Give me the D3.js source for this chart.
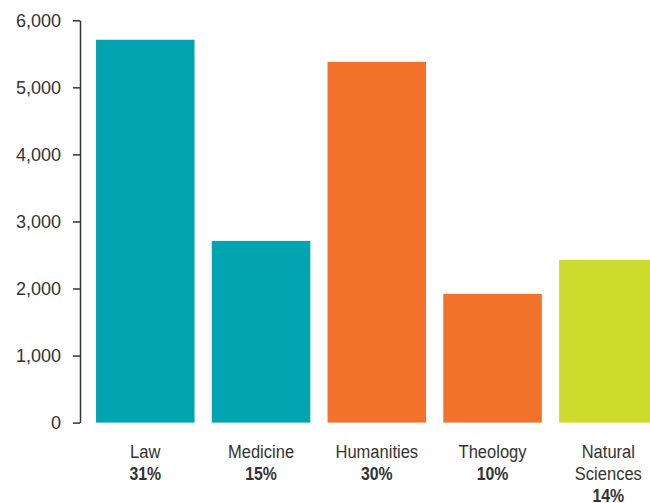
<!DOCTYPE html>
<html>
<head>
<meta charset="utf-8">
<script src="https://cdn.jsdelivr.net/npm/d3@7"></script>
<style>
  html, body { margin: 0; padding: 0; background: #fff; }
  svg { display: block; }
  text { font-family: "Liberation Sans", Arial, sans-serif; fill: #333; }
</style>
</head>
<body>
<svg id="chart" width="650" height="503"></svg>
<script>
// Students enrolled by faculty
const categories = ["Law", "Medicine", "Humanities", "Theology", "Natural Sciences"];
const labelLines = [["Law"], ["Medicine"], ["Humanities"], ["Theology"], ["Natural", "Sciences"]];
const values = [5710, 2710, 5380, 1920, 2425];
const shares = ["31%", "15%", "30%", "10%", "14%"];
const colors = ["#00a3b0", "#00a3b0", "#f2712b", "#f2712b", "#ccdb2c"];
const yTicks = [0, 1000, 2000, 3000, 4000, 5000, 6000];

const svg = d3.select("#chart");

const y = d3.scaleLinear().domain([0, 6000]).range([422.6, 20.3]);
const x = d3.scaleBand()
  .domain(categories)
  .range([87.4, 666.2])
  .paddingInner(0.149)
  .paddingOuter(0.0745);

// Bars
svg.append("g")
  .selectAll("rect")
  .data(categories)
  .join("rect")
  .attr("x", d => x(d))
  .attr("width", x.bandwidth())
  .attr("y", (d, i) => y(values[i]))
  .attr("height", (d, i) => y(0) - y(values[i]))
  .attr("fill", (d, i) => colors[i]);

// Y axis
const yAxis = d3.axisLeft(y)
  .tickValues(yTicks)
  .tickFormat(d3.format(","))
  .tickSize(7)
  .tickPadding(12)
  .tickSizeOuter(0);

const gy = svg.append("g")
  .attr("transform", "translate(80,0)")
  .call(yAxis);
gy.select(".domain").attr("stroke", "#333").attr("stroke-width", 1.5);
gy.selectAll(".tick line").attr("stroke", "#333").attr("stroke-width", 1.5);
gy.selectAll(".tick text")
  .attr("fill", "#333")
  .style("font-size", "18px")
  .style("font-family", "\"Liberation Sans\", Arial, sans-serif");

// Category labels with share, set in a condensed width
const labels = svg.append("g")
  .selectAll("g")
  .data(categories)
  .join("g")
  .attr("transform", d => `translate(${x(d) + x.bandwidth() / 2},0) scale(0.87,1)`);

labels.each(function (d, i) {
  const g = d3.select(this);
  const lines = labelLines[i];
  lines.forEach((t, k) => {
    g.append("text")
      .attr("y", 458 + k * 22)
      .attr("text-anchor", "middle")
      .style("font-size", "19px")
      .text(t);
  });
  g.append("text")
    .attr("y", 458 + lines.length * 22)
    .attr("text-anchor", "middle")
    .attr("transform", "scale(0.96,1)")
    .style("font-size", "19px")
    .style("font-weight", "bold")
    .text(shares[i]);
});
</script>
</body>
</html>
